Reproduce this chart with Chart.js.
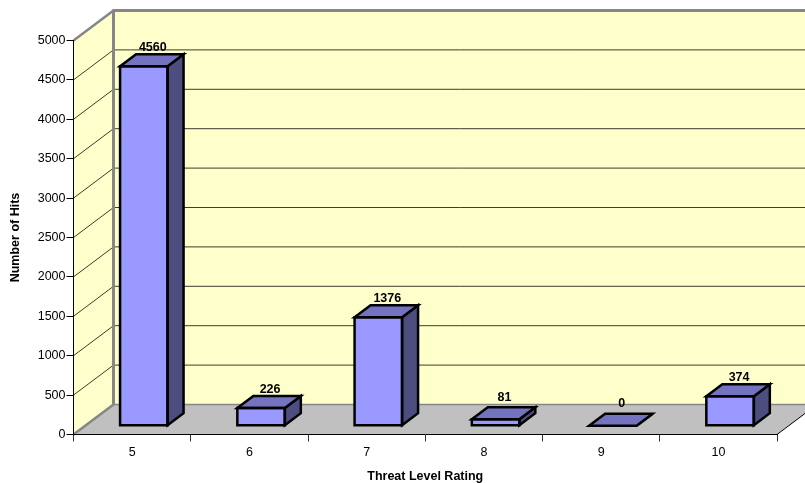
<!DOCTYPE html>
<html>
<head>
<meta charset="utf-8">
<title>Threat Level Rating</title>
<script src="https://cdn.jsdelivr.net/npm/chart.js@4/dist/chart.umd.min.js"></script>
<style>
    html, body { margin: 0; padding: 0; background: #fff; }
    canvas { display: block; }
</style>
</head>
<body>
<canvas id="grafico" width="805" height="483"></canvas>
<script>
const threatLevels = ['5', '6', '7', '8', '9', '10'];
const hits = [4560, 226, 1376, 81, 0, 374];
const yMax = 5000;
const yStep = 500;
const xTitle = 'Threat Level Rating';
const yTitle = 'Number of Hits';

const fontFamily = '"Liberation Sans", Arial, sans-serif';

// depth of the box the chart sits in, and where the bars stand inside it
const wallDx = 40, wallDy = -30;
const barShiftX = 11.7, barShiftY = -8.8;
const barDx = 16, barDy = -12;

const colors = {
    wall: '#ffffcc',
    floor: '#c0c0c0',
    edge: '#868686',
    grid: '#3c3c30',
    front: '#9999ff',
    top: '#7373bf',
    side: '#4d4d80'
};

function poly(ctx, pts, fill, stroke, lineWidth) {
    ctx.beginPath();
    pts.forEach((p, i) => i ? ctx.lineTo(p[0], p[1]) : ctx.moveTo(p[0], p[1]));
    ctx.closePath();
    if (fill) {
        ctx.fillStyle = fill;
        ctx.fill();
    }
    if (stroke) {
        ctx.strokeStyle = stroke;
        ctx.lineWidth = lineWidth;
        ctx.stroke();
    }
}

function line(ctx, x1, y1, x2, y2, color, lineWidth) {
    ctx.beginPath();
    ctx.moveTo(x1, y1);
    ctx.lineTo(x2, y2);
    ctx.strokeStyle = color;
    ctx.lineWidth = lineWidth;
    ctx.stroke();
}

// walls, floor and gridlines
const boxPlugin = {
    id: 'box',
    beforeDraw(chart) {
        const ctx = chart.ctx;
        const a = chart.chartArea;
        const yScale = chart.scales.y;
        const backLeft = a.left + wallDx;
        const backRight = a.right + wallDx;
        const backTop = a.top + wallDy;
        const backBottom = a.bottom + wallDy;

        ctx.save();
        ctx.fillStyle = '#fff';
        ctx.fillRect(0, 0, chart.width, chart.height);

        ctx.lineJoin = 'miter';
        poly(ctx, [[backLeft, backTop], [backRight, backTop], [backRight, backBottom], [backLeft, backBottom]], colors.wall);
        poly(ctx, [[a.left, a.top], [backLeft, backTop], [backLeft, backBottom], [a.left, a.bottom]], colors.wall);
        poly(ctx, [[a.left, a.bottom], [backLeft, backBottom], [backRight, backBottom], [a.right, a.bottom]], colors.floor);

        yScale.ticks.forEach(t => {
            if (t.value === 0 || t.value === yMax) return;
            const y = yScale.getPixelForValue(t.value);
            line(ctx, a.left, y, backLeft, y + wallDy, colors.grid, 1);
            line(ctx, backLeft, y + wallDy, backRight, y + wallDy, colors.grid, 1);
        });

        line(ctx, a.left, a.top, backLeft, backTop, colors.edge, 2.5);
        line(ctx, backLeft - 1, backTop, backRight, backTop, colors.edge, 3);
        line(ctx, backLeft, backTop, backLeft, backBottom, colors.edge, 3);
        line(ctx, backLeft, backBottom, backRight, backBottom, colors.edge, 1.5);
        line(ctx, a.left, a.bottom, backLeft, backBottom, colors.edge, 2.5);
        line(ctx, a.right, a.bottom, backRight, backBottom, '#000', 1);
        ctx.restore();
    },
    beforeDatasetsDraw(chart) {
        chart.ctx.save();
        chart.ctx.translate(barShiftX, barShiftY);
    },
    afterDatasetsDraw(chart) {
        const ctx = chart.ctx;
        ctx.restore();

        const bars = chart.getDatasetMeta(0).data;
        ctx.save();
        ctx.lineJoin = 'miter';
        bars.forEach((bar, i) => {
            const left = bar.x - bar.width / 2 + barShiftX;
            const right = bar.x + bar.width / 2 + barShiftX;
            const top = bar.y + barShiftY;
            const bottom = bar.base + barShiftY;

            poly(ctx, [[right, top], [right + barDx, top + barDy], [right + barDx, bottom + barDy], [right, bottom]], colors.side, '#000', 2.5);
            poly(ctx, [[left, top], [left + barDx, top + barDy], [right + barDx, top + barDy], [right, top]], colors.top, '#000', 2.5);
            if (bottom - top > 0) {
                poly(ctx, [[left, top], [right, top], [right, bottom], [left, bottom]], null, '#000', 2.5);
            }

            // value label above the bar, short bars get a bit more room
            const gap = hits[i] < 100 ? 10 : 6.5;
            ctx.fillStyle = '#000';
            ctx.font = 'bold 12.5px ' + fontFamily;
            ctx.textAlign = 'center';
            ctx.textBaseline = 'middle';
            ctx.fillText(String(hits[i]), (left + right) / 2 + barDx / 2 + 1, top + barDy - gap);
        });
        ctx.restore();
    }
};

new Chart(document.getElementById('grafico').getContext('2d'), {
    type: 'bar',
    data: {
        labels: threatLevels,
        datasets: [{
            data: hits,
            backgroundColor: colors.front,
            borderWidth: 0,
            barPercentage: 0.405,
            categoryPercentage: 1
        }]
    },
    plugins: [boxPlugin],
    options: {
        responsive: false,
        animation: false,
        events: [],
        layout: { padding: { top: 40.5, right: 28, left: 0, bottom: 0 } },
        plugins: {
            legend: { display: false },
            tooltip: { enabled: false },
            title: { display: false }
        },
        scales: {
            x: {
                offset: true,
                afterFit: s => { s.height = 48.5; },
                grid: {
                    offset: true,
                    drawOnChartArea: false,
                    tickLength: 7,
                    color: '#333',
                    lineWidth: 1
                },
                border: { color: '#000', width: 1 },
                ticks: {
                    color: '#000',
                    font: { family: fontFamily, size: 12.5 },
                    padding: 4,
                    maxRotation: 0
                },
                title: {
                    display: true,
                    text: xTitle,
                    color: '#000',
                    font: { family: fontFamily, size: 12.5, weight: 'bold' },
                    padding: { top: 0, bottom: -1 }
                }
            },
            y: {
                min: 0,
                max: yMax,
                afterFit: s => { s.width = 73.5; },
                grid: {
                    drawOnChartArea: false,
                    tickLength: 7,
                    color: '#000',
                    lineWidth: 1
                },
                border: { color: '#000', width: 1 },
                ticks: {
                    stepSize: yStep,
                    callback: v => String(v),
                    color: '#000',
                    font: { family: fontFamily, size: 12.5 },
                    padding: 1
                },
                title: {
                    display: true,
                    text: yTitle,
                    color: '#000',
                    font: { family: fontFamily, size: 12.5, weight: 'bold' },
                    padding: { top: 8, bottom: 0 }
                }
            }
        }
    }
});
</script>
</body>
</html>
